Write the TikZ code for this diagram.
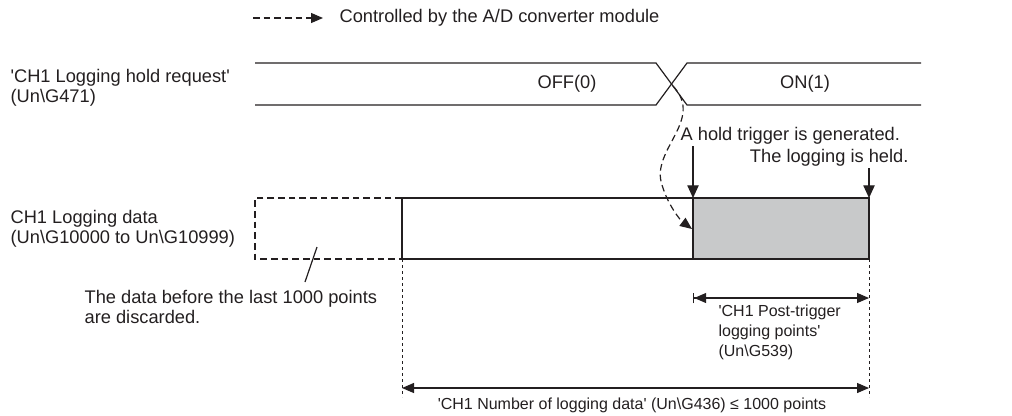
\documentclass[tikz,border=0pt]{standalone}
\usepackage{fontspec}
\setmainfont{Liberation Sans}
\usetikzlibrary{arrows.meta,positioning,calc}
\definecolor{ink}{HTML}{231F20}
\definecolor{heldGray}{HTML}{C8C9CA}
\newcommand{\sq}{\textquotesingle}

\begin{document}
\begin{tikzpicture}[
  x=0.75pt,y=-0.75pt,line width=0.9pt,color=ink,
  txt/.style={font=\fontsize{13.7pt}{15pt}\selectfont,inner sep=0pt,align=left,text=ink},
  smalltxt/.style={txt,font=\fontsize{12pt}{15pt}\selectfont},
  dsh/.style={dash pattern=on 5pt off 3pt},
  fine/.style={line width=0.6pt,dash pattern=on 2.5pt off 2pt},
  ctrl/.style={dash pattern=on 5pt off 3pt,-{Triangle[length=9pt,width=7.5pt]}},
  darr/.style={-{Triangle[length=9.5pt,width=8.5pt]}},
  dim/.style={{Triangle[length=9pt,width=7.5pt]}-{Triangle[length=9pt,width=7.5pt]}},
  bdim/.style={{Bar[width=8pt]Triangle[length=9pt,width=7.5pt]}-{Triangle[length=9pt,width=7.5pt]}}
]
  \useasboundingbox (0,0) rectangle (1012,415);
  % legend
  \coordinate (lgA) at (253,18);
  \coordinate (lgB) at (323,18);
  \draw[ctrl] (lgA) -- (lgB);
  \node[txt,anchor=west] (lgtxt) at (339,18) {Controlled by the A/D converter module};

  % hold request signal
  \node[txt,anchor=west] (reqlbl) at (10,88) {\sq CH1 Logging hold request\sq\\(Un\textbackslash G471)};
  \draw (255,63) -- (656,63) -- (687,105) -- (921,105);
  \draw (255,105) -- (656,105) -- (687,63) -- (921,63);
  \node[txt] (off) at (567,84) {OFF(0)};
  \node[txt] (on) at (805,84) {ON(1)};
  \coordinate (cross) at (673,86);

  % logging data buffer
  \node[txt,anchor=west] (datalbl) at (10,229) {CH1 Logging data\\(Un\textbackslash G10000 to Un\textbackslash G10999)};
  \draw[dsh] (402,198) -- (255,198) -- (255,259) -- (402,259);
  \draw (402,198) rectangle (869,259);
  \draw[fill=heldGray] (693,198) rectangle (869,259);
  \coordinate (bufL) at (402,259);
  \coordinate (bufR) at (869,259);
  \coordinate (trigT) at (693,198);
  \coordinate (trigM) at (692,229);
  \coordinate (heldT) at (869,198);

  % trigger and hold
  \draw[ctrl] (cross) .. controls (705,120) and (650,150) .. (662,185)
    .. controls (668,205) and (680,220) .. (trigM);
  \node[txt,anchor=west] (trigtxt) at (680,136) {A hold trigger is generated.};
  \node[txt,anchor=east] (heldtxt) at (909,158) {The logging is held.};
  \coordinate (trigIn) at (693,146);
  \coordinate (heldIn) at (869,168);
  \draw[darr] (trigIn) -- (trigT);
  \draw[darr] (heldIn) -- (heldT);

  % discarded data
  \node[txt,anchor=west] (disctxt) at (84,307) {The data before the last 1000 points\\are discarded.};
  \coordinate (discA) at (317,247);
  \coordinate (discB) at (305,282);
  \draw (discA) -- (discB);

  % dimensions
  \coordinate (dimBL) at (402,397);
  \coordinate (dimBR) at (869,397);
  \draw[fine] (bufL) -- (dimBL);
  \draw[fine] (bufR) -- (dimBR);
  \coordinate (postL) at (693,298);
  \coordinate (postR) at (869,298);
  \draw[bdim] (postL) -- (postR);
  \node[smalltxt,anchor=west] (posttxt) at (718,332) {\sq CH1 Post-trigger\\logging points\sq\\(Un\textbackslash G539)};
  \coordinate (numL) at (402,388);
  \coordinate (numR) at (869,388);
  \draw[dim] (numL) -- (numR);
  \node[smalltxt] (numtxt) at (632,405) {\sq CH1 Number of logging data\sq{} (Un\textbackslash G436) ≤ 1000 points};
\end{tikzpicture}
\end{document}
